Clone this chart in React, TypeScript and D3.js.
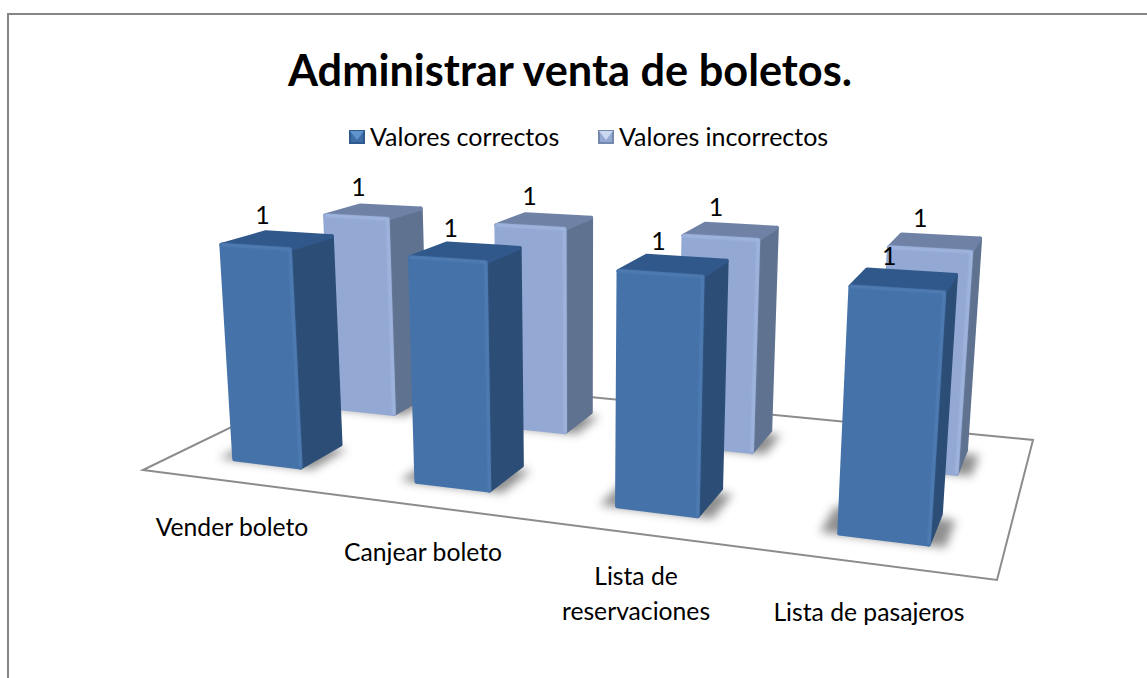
import React from "react";
import * as d3 from "d3";

const title = "Administrar venta de boletos.";
const categories = [["Vender boleto"], ["Canjear boleto"], ["Lista de", "reservaciones"], ["Lista de pasajeros"]];
const seriesNames = ["Valores correctos", "Valores incorrectos"];
const valoresCorrectos = [1, 1, 1, 1];
const valoresIncorrectos = [1, 1, 1, 1];

const palette = [
  { front: "#4472a9", frontHi: "#5480b6", side: "#2c4d76", top: "#31588a", swFrame: "#2f5a8e", swTri: "#5f93cc", swBody: "#3f6ea6" },
  { front: "#93a9d4", frontHi: "#a6bbe2", side: "#5f7290", top: "#6f82a6", swFrame: "#7488ab", swTri: "#c9d7f0", swBody: "#93a9d4" },
];

// perspective camera: floor homography from four image corners + vertical vanishing point
const floorCorners = { A: [143, 470], B: [997, 580], C: [1033, 440], D: [343, 373] };
const vanish = [581, 6200];
const heightK = -0.0368;
const xScale = d3.scaleLinear().domain([0, 4]).range([0, 1]);
const yScale = d3.scaleLinear().domain([0, 2]).range([0, 1]);
const zScale = d3.scaleLinear().domain([0, 1]).range([0, heightK]);

const { A, B, C, D } = floorCorners;
const sx = A[0] - B[0] + C[0] - D[0], sy = A[1] - B[1] + C[1] - D[1];
const d1x = B[0] - C[0], d1y = B[1] - C[1], d2x = D[0] - C[0], d2y = D[1] - C[1];
const det = d1x * d2y - d2x * d1y;
const g = (sx * d2y - d2x * sy) / det;
const h = (d1x * sy - sx * d1y) / det;
const m = [
  B[0] - A[0] + g * B[0], D[0] - A[0] + h * D[0], A[0],
  B[1] - A[1] + g * B[1], D[1] - A[1] + h * D[1], A[1],
];
function project(x: number, y: number, z: number): [number, number] {
  const u = xScale(x), v = yScale(y), k = zScale(z);
  const w = g * u + h * v + 1 + k;
  return [
    (m[0] * u + m[1] * v + m[2] + k * vanish[0]) / w,
    (m[3] * u + m[4] * v + m[5] + k * vanish[1]) / w,
  ];
}
const poly = d3.line();
const quad = (pts: [number, number][]) => poly(pts)! + "Z";

const BAR_W = 0.375;
const BAR_D = 0.4;
const CENTER = 0.51;
const bars = [valoresIncorrectos, valoresCorrectos].flatMap((vals) => {
  const s = vals === valoresCorrectos ? 0 : 1;
  return vals.map((v, i) => ({ s, i, v, x0: i + CENTER - BAR_W / 2, x1: i + CENTER + BAR_W / 2, y0: s + 0.5 - BAR_D / 2, y1: s + 0.5 + BAR_D / 2 }));
});
const catLabelPos = [[232, 528], [423, 553], [636, 577], [869, 613]];

function Swatch({ x, y, s }: { x: number; y: number; s: number }) {
  const c = palette[s];
  const w = 16, ht = 14;
  return (
    <g>
      <rect x={x} y={y} width={w} height={ht} fill={c.swFrame} />
      <rect x={x + 2} y={y + 2} width={w - 4} height={ht - 4} fill={c.swBody} />
      <path d={`M${x + 1},${y + 1}H${x + w - 1}L${x + w / 2},${y + ht * 0.72}Z`} fill={c.swTri} />
    </g>
  );
}

export default function App() {
  const font = "Lato, 'Open Sans', sans-serif";
  return (
    <svg width={1147} height={678} viewBox="0 0 1147 678" style={{ position: "absolute", left: 0, top: 0, background: "#fff" }}>
      <defs>
        <filter id="soft" x="-40%" y="-60%" width="180%" height="220%"><feGaussianBlur stdDeviation="5" /></filter>
        <filter id="edge" x="-10%" y="-10%" width="120%" height="120%"><feGaussianBlur stdDeviation="1" /></filter>
      </defs>
      <path d="M8,678V14H1147" fill="none" stroke="#868686" strokeWidth={2} />
      <text x={570} y={86} textAnchor="middle" fontFamily={font} fontWeight={700} fontSize={43.3} fill="#000">{title}</text>

      {seriesNames.map((n, s) => {
        const sxPos = [349, 598][s];
        return (
          <g key={n}>
            <Swatch x={sxPos} y={130} s={s} />
            <text x={sxPos + 21} y={146} fontFamily={font} fontSize={25} fill="#000">{n}</text>
          </g>
        );
      })}

      <path d={quad([project(0, 0, 0), project(4, 0, 0), project(4, 2, 0), project(0, 2, 0)])} fill="#fff" stroke="#8c8c8c" strokeWidth={2} />

      {bars.map((b) => (
        <path key={`sh${b.s}${b.i}`} filter="url(#soft)" fill="#444" opacity={0.6}
          d={quad([project(b.x0 - 0.08, b.y0 - 0.01, 0), project(b.x1 + 0.07, b.y0 - 0.01, 0), project(b.x1 + 0.07, b.y1 - 0.06, 0), project(b.x0 - 0.08, b.y1 - 0.06, 0)])} />
      ))}

      {bars.map((b) => {
        const c = palette[b.s];
        const front = [project(b.x0, b.y0, 0), project(b.x1, b.y0, 0), project(b.x1, b.y0, b.v), project(b.x0, b.y0, b.v)] as [number, number][];
        const side = [project(b.x1, b.y0, 0), project(b.x1, b.y1, 0), project(b.x1, b.y1, b.v), project(b.x1, b.y0, b.v)] as [number, number][];
        const top = [project(b.x0, b.y0, b.v), project(b.x1, b.y0, b.v), project(b.x1, b.y1, b.v), project(b.x0, b.y1, b.v)] as [number, number][];
        return (
          <g key={`b${b.s}${b.i}`} strokeLinejoin="round" strokeWidth={4}>
            <path d={quad(side)} fill={c.side} stroke={c.side} />
            <path d={quad(top)} fill={c.top} stroke={c.top} />
            <path d={quad(front)} fill={c.front} stroke={c.front} />
            <path d={poly([front[1], front[2], front[3]])!} fill="none" stroke={c.frontHi} strokeWidth={2} filter="url(#edge)" />
          </g>
        );
      })}

      {bars.map((b) => {
        const [px, py] = project((b.x0 + b.x1) / 2, (b.y0 + b.y1) / 2, b.v);
        return (
          <text key={`l${b.s}${b.i}`} x={px - 15} y={py - 16} textAnchor="middle" fontFamily={font} fontSize={25} fill="#000">{b.v}</text>
        );
      })}

      {categories.map((lines, i) => (
        <text key={i} textAnchor="middle" fontFamily={font} fontSize={24.7} fill="#000">
          {lines.map((l, j) => (
            <tspan key={l} x={catLabelPos[i][0]} y={catLabelPos[i][1] + 8 + j * 35}>{l}</tspan>
          ))}
        </text>
      ))}
    </svg>
  );
}
